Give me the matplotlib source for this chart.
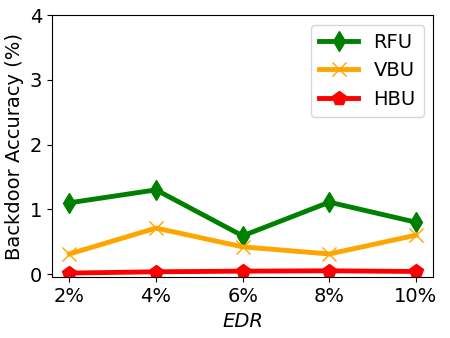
import matplotlib
matplotlib.use('Agg')
import matplotlib.pyplot as plt

edr_labels = ['2%', '4%', '6%', '8%', '10%']
rfu = [1.10, 1.30, 0.59, 1.11, 0.80]
vbu = [0.31, 0.71, 0.42, 0.31, 0.60]
hbu = [0.015, 0.035, 0.045, 0.05, 0.04]

plt.rcParams['font.size'] = 14

fig = plt.figure(figsize=(4.5, 3.38), dpi=100)
ax = fig.add_axes([0.1156, 0.1796, 0.8473, 0.776])

x = list(range(len(edr_labels)))
ax.plot(x, rfu, color='green', marker='d', markersize=10, linewidth=3.5, label='RFU')
ax.plot(x, vbu, color='orange', marker='x', markersize=10, linewidth=3.5, label='VBU')
ax.plot(x, hbu, color='red', marker='p', markersize=10, linewidth=3.5, label='HBU')

ax.set_xticks(x)
ax.set_xticklabels(edr_labels)
ax.set_ylim(-0.05, 4)
ax.set_yticks([0, 1, 2, 3, 4])
ax.set_xlabel('EDR', style='italic')
ax.set_ylabel('Backdoor Accuracy (%)')
ax.legend(loc='upper right')

fig.savefig('out.png', dpi=100)
